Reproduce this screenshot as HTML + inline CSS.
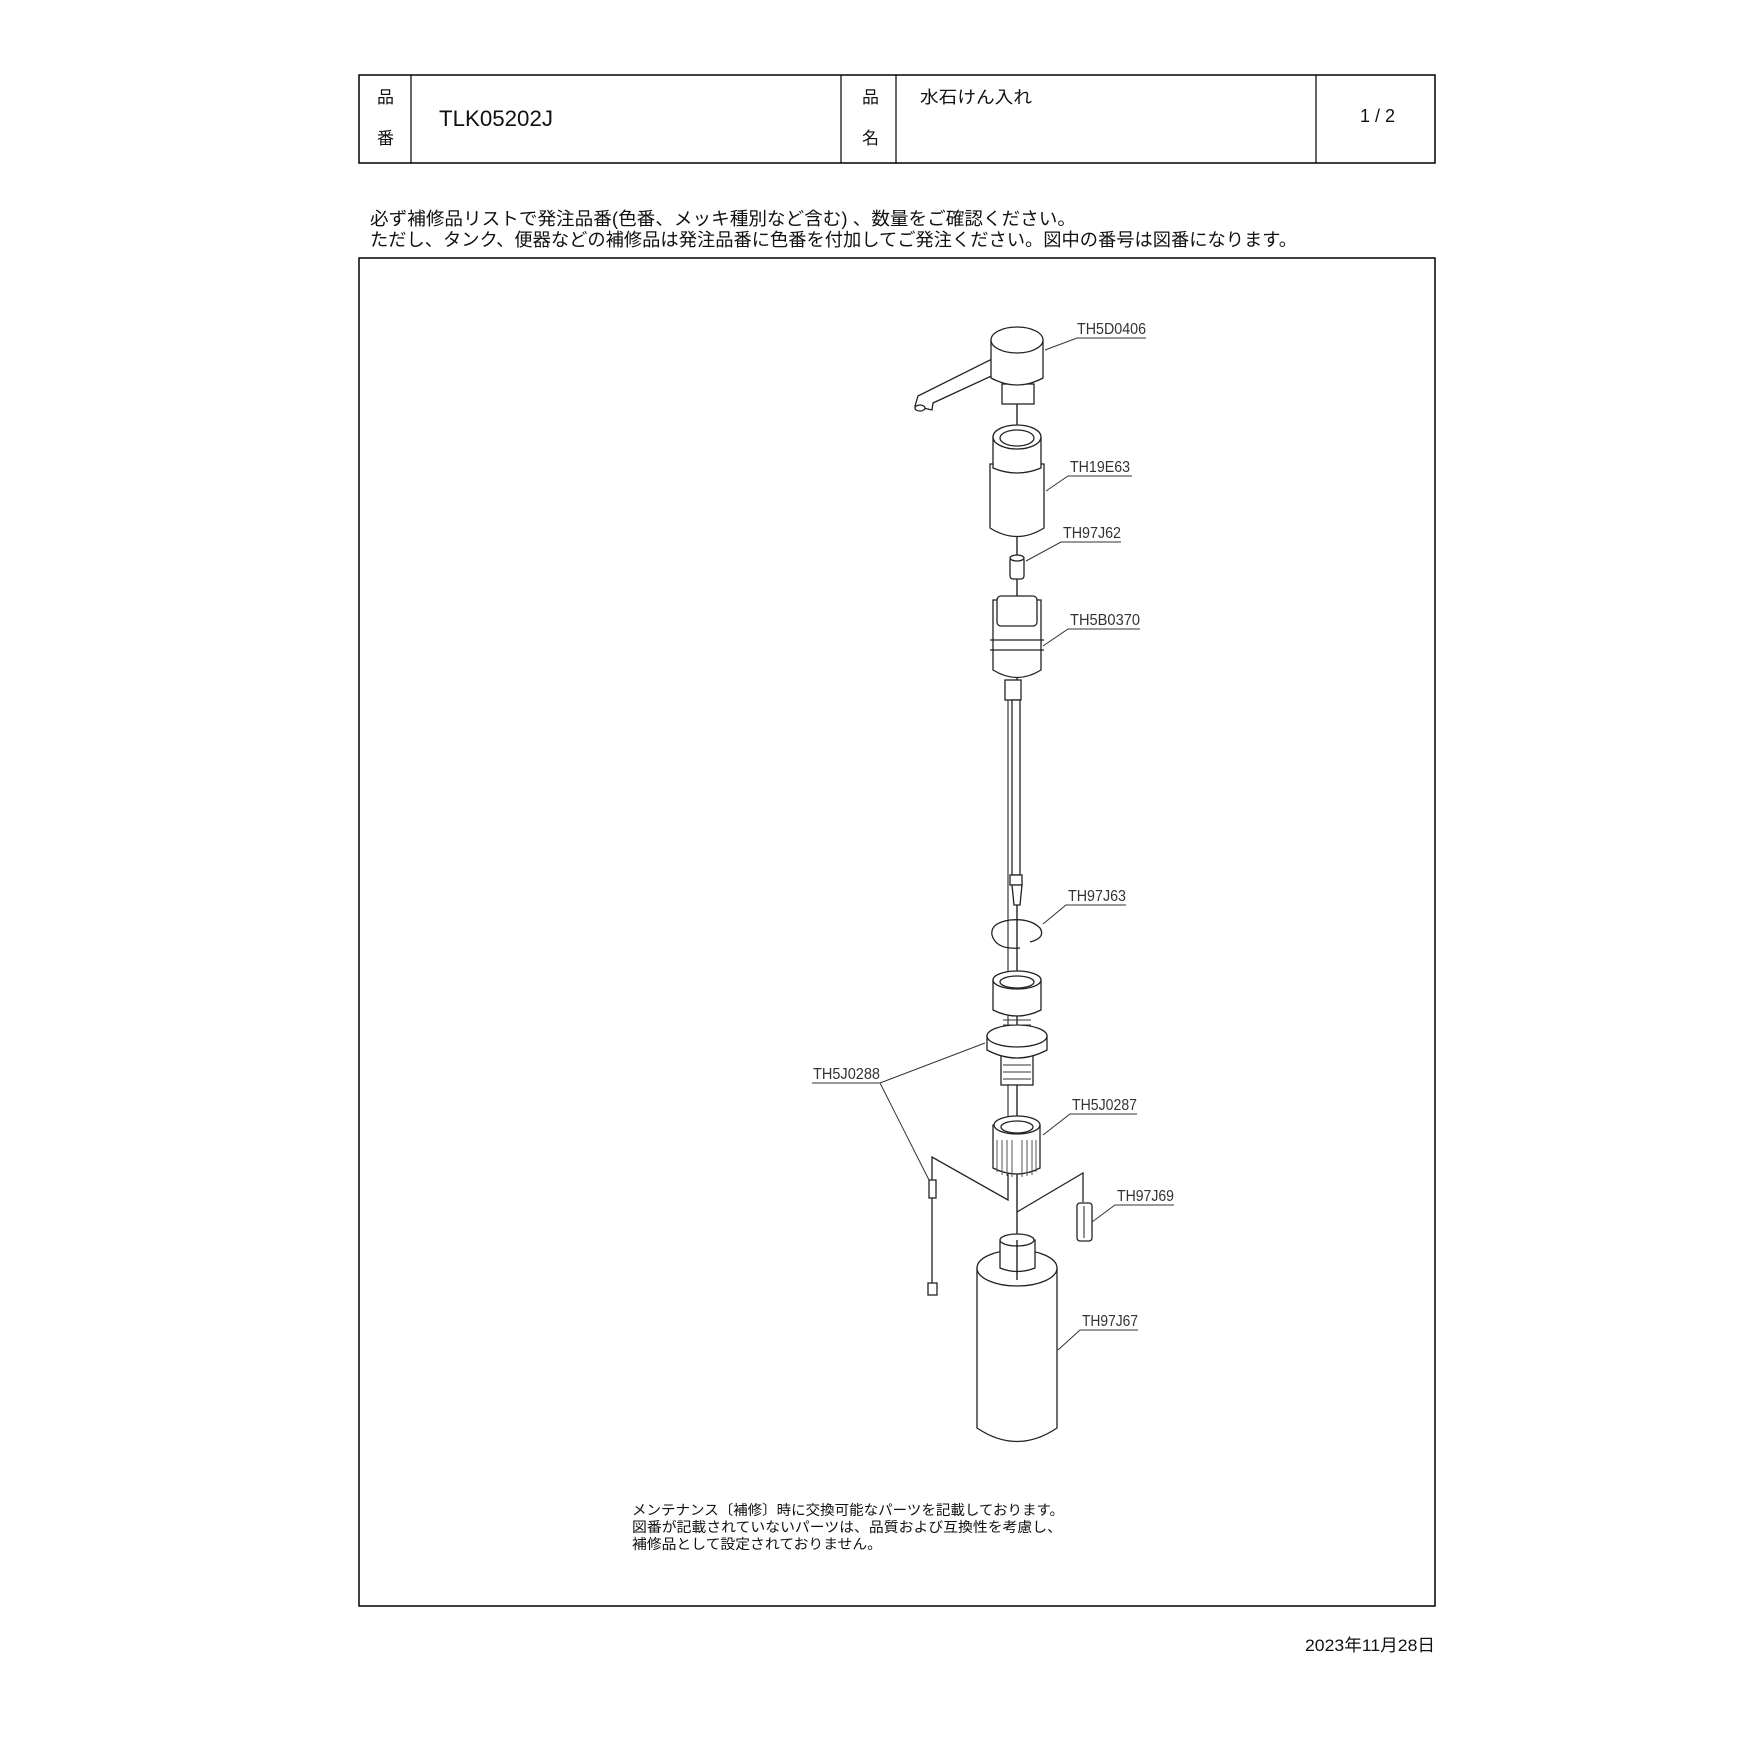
<!DOCTYPE html>
<html><head><meta charset="utf-8"><style>
html,body{margin:0;padding:0;background:#fff;}
svg{display:block}
.j{font-family:"Liberation Sans","Noto Sans CJK JP",sans-serif;fill:#111}
.l{font-family:"Liberation Sans",sans-serif;fill:#333;font-size:16px}
.p{fill:#fff;stroke:#222;stroke-width:1.3}
.t{fill:none;stroke:#222;stroke-width:1.3}
</style></head><body>
<svg width="1754" height="1754" viewBox="0 0 1754 1754" xmlns="http://www.w3.org/2000/svg">
<rect x="359" y="75" width="1076" height="88" fill="none" stroke="#000" stroke-width="1.5"/>
<line x1="411" y1="75" x2="411" y2="163" stroke="#000" stroke-width="1.2"/>
<line x1="841" y1="75" x2="841" y2="163" stroke="#000" stroke-width="1.2"/>
<line x1="896" y1="75" x2="896" y2="163" stroke="#000" stroke-width="1.2"/>
<line x1="1316" y1="75" x2="1316" y2="163" stroke="#000" stroke-width="1.2"/>
<text class="j" x="377" y="103" font-size="17">品</text>
<text class="j" x="377" y="144" font-size="17">番</text>
<text class="j" x="862" y="103" font-size="17">品</text>
<text class="j" x="862" y="144" font-size="17">名</text>
<text class="j" x="439" y="126" font-size="22" textLength="114" lengthAdjust="spacingAndGlyphs">TLK05202J</text>
<text class="j" x="920" y="103" font-size="17" textLength="112" lengthAdjust="spacingAndGlyphs">水石けん入れ</text>
<text class="j" x="1360" y="122" font-size="18">1 / 2</text>
<text class="j" x="370" y="225" font-size="18" textLength="706" lengthAdjust="spacingAndGlyphs">必ず補修品リストで発注品番(色番、メッキ種別など含む) 、数量をご確認ください。</text>
<text class="j" x="370" y="246" font-size="18" textLength="927" lengthAdjust="spacingAndGlyphs">ただし、タンク、便器などの補修品は発注品番に色番を付加してご発注ください。図中の番号は図番になります。</text>
<rect x="359" y="258" width="1076" height="1348" fill="none" stroke="#000" stroke-width="1.5"/>

<line x1="1017" y1="380" x2="1017" y2="1265" stroke="#111" stroke-width="1.3"/>
<line x1="1008" y1="700" x2="1008" y2="1200" stroke="#111" stroke-width="1"/>

<path class="p" d="M915,406 L918,396 L1000,355 L1000,372 L933,403 L932,410 Z"/>
<rect class="p" x="1002" y="384" width="32" height="20"/>
<path class="p" d="M991,340 L991,378 Q1017,392 1043,378 L1043,340 Z"/>
<ellipse class="p" cx="1017" cy="340" rx="26" ry="13"/>
<ellipse class="p" cx="920" cy="408" rx="5" ry="3"/>
<path class="p" d="M990,464 L990,528 Q1017,545 1044,528 L1044,464 Z"/>
<path class="p" d="M993,437 L993,468 Q1017,478 1041,468 L1041,437 Z"/>
<ellipse class="p" cx="1017" cy="437" rx="24" ry="12"/>
<ellipse class="t" cx="1017" cy="438" rx="17" ry="8"/>
<rect class="p" x="1010" y="557" width="14" height="22" rx="3"/>
<ellipse class="p" cx="1017" cy="558" rx="7" ry="3"/>
<path class="p" d="M993,600 L993,670 Q1017,685 1041,670 L1041,600 Z"/>
<rect class="p" x="997" y="596" width="40" height="30" rx="4"/>
<line class="t" x1="990" y1="640" x2="1044" y2="640"/>
<line class="t" x1="990" y1="650" x2="1044" y2="650"/>
<rect class="p" x="1005" y="680" width="16" height="20"/>
<rect class="p" x="1012" y="700" width="8" height="175"/>
<rect class="p" x="1010" y="875" width="12" height="10"/>
<path class="p" d="M1012,885 L1022,885 L1020,905 L1014,905 Z"/>
<path class="t" d="M1030,942 Q1046,938 1040,928 Q1030,918 1010,920 Q990,923 992,935 Q996,950 1020,948" stroke-width="2.5"/>
<rect class="p" x="1001" y="1030" width="32" height="55"/>
<path class="p" d="M987,1036 L987,1050 Q1017,1066 1047,1050 L1047,1036 Z"/>
<ellipse class="p" cx="1017" cy="1036" rx="30" ry="11"/>
<path class="p" d="M993,980 L993,1010 Q1017,1022 1041,1010 L1041,980 Z"/>
<ellipse class="p" cx="1017" cy="980" rx="24" ry="9"/>
<ellipse class="t" cx="1017" cy="982" rx="17" ry="6"/>
<g stroke="#333" stroke-width="1"><line x1="1003" y1="1020" x2="1031" y2="1020"/><line x1="1003" y1="1025" x2="1031" y2="1025"/><line x1="1003" y1="1065" x2="1031" y2="1065"/><line x1="1003" y1="1072" x2="1031" y2="1072"/><line x1="1003" y1="1079" x2="1031" y2="1079"/></g>
<path class="p" d="M993,1125 L993,1168 Q1017,1180 1040,1168 L1040,1125 Z"/>
<ellipse class="p" cx="1017" cy="1125" rx="23" ry="9"/>
<ellipse class="t" cx="1017" cy="1127" rx="16" ry="6"/>
<g stroke="#555" stroke-width="1"><line x1="997" y1="1140" x2="997" y2="1172"/><line x1="1002" y1="1140" x2="1002" y2="1175"/><line x1="1007" y1="1140" x2="1007" y2="1176"/><line x1="1012" y1="1140" x2="1012" y2="1177"/><line x1="1022" y1="1140" x2="1022" y2="1177"/><line x1="1027" y1="1140" x2="1027" y2="1176"/><line x1="1032" y1="1140" x2="1032" y2="1175"/><line x1="1036" y1="1140" x2="1036" y2="1172"/></g>
<polyline class="t" points="932,1292 932,1157 1008,1200 1008,1175"/>
<polyline class="t" points="1017,1212 1083,1173 1083,1202"/>
<rect class="p" x="929" y="1180" width="7" height="18"/>
<rect class="p" x="928" y="1283" width="9" height="12"/>
<rect class="p" x="1077" y="1203" width="15" height="38" rx="3"/>
<line x1="1084" y1="1206" x2="1084" y2="1238" stroke="#222"/>
<path class="p" d="M977,1268 L977,1428 Q1017,1455 1057,1428 L1057,1268 Z"/>
<ellipse class="p" cx="1017" cy="1268" rx="40" ry="18"/>
<path class="p" d="M1000,1240 L1000,1268 Q1017,1275 1035,1268 L1035,1240 Z"/>
<ellipse class="p" cx="1017" cy="1240" rx="17" ry="6"/>
<line x1="1017" y1="1240" x2="1017" y2="1280" stroke="#111" stroke-width="1.3"/>

<g stroke="#333" stroke-width="1" fill="none">
<polyline points="1146,338 1077,338 1045,350"/>
<polyline points="1132,476 1068,476 1046,491"/>
<polyline points="1121,542 1061,542 1026,561"/>
<polyline points="1140,629 1068,629 1043,646"/>
<polyline points="1126,905 1066,905 1043,924"/>
<polyline points="812,1083 880,1083 985,1043"/>
<line x1="880" y1="1083" x2="929" y2="1180"/>
<polyline points="1137,1114 1070,1114 1043,1135"/>
<polyline points="1174,1205 1115,1205 1092,1222"/>
<polyline points="1138,1330 1080,1330 1058,1350"/>
</g>
<text class="l" x="1077" y="334" textLength="69" lengthAdjust="spacingAndGlyphs">TH5D0406</text>
<text class="l" x="1070" y="472" textLength="60" lengthAdjust="spacingAndGlyphs">TH19E63</text>
<text class="l" x="1063" y="538" textLength="58" lengthAdjust="spacingAndGlyphs">TH97J62</text>
<text class="l" x="1070" y="625" textLength="70" lengthAdjust="spacingAndGlyphs">TH5B0370</text>
<text class="l" x="1068" y="901" textLength="58" lengthAdjust="spacingAndGlyphs">TH97J63</text>
<text class="l" x="813" y="1079" textLength="67" lengthAdjust="spacingAndGlyphs">TH5J0288</text>
<text class="l" x="1072" y="1110" textLength="65" lengthAdjust="spacingAndGlyphs">TH5J0287</text>
<text class="l" x="1117" y="1201" textLength="57" lengthAdjust="spacingAndGlyphs">TH97J69</text>
<text class="l" x="1082" y="1326" textLength="56" lengthAdjust="spacingAndGlyphs">TH97J67</text>

<text class="j" x="632" y="1515" font-size="14" fill="#222" textLength="432" lengthAdjust="spacingAndGlyphs">メンテナンス〔補修〕時に交換可能なパーツを記載しております。</text>
<text class="j" x="632" y="1532" font-size="14" fill="#222" textLength="430" lengthAdjust="spacingAndGlyphs">図番が記載されていないパーツは、品質および互換性を考慮し、</text>
<text class="j" x="632" y="1549" font-size="14" fill="#222" textLength="250" lengthAdjust="spacingAndGlyphs">補修品として設定されておりません。</text>
<text class="j" x="1435" y="1651" font-size="17" text-anchor="end" textLength="130" lengthAdjust="spacingAndGlyphs">2023年11月28日</text>
</svg>
</body></html>
